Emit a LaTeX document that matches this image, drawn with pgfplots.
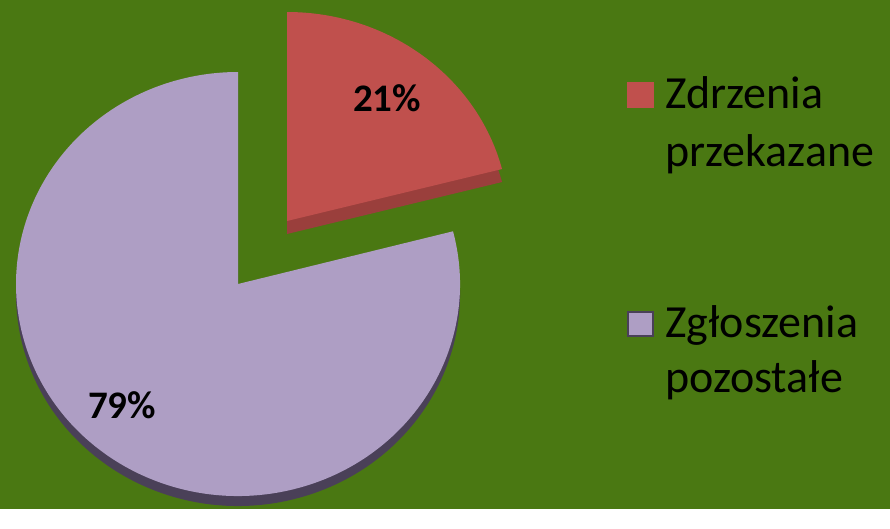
\documentclass[border=0pt]{standalone}
\usepackage{pgfplots}
\usepackage{pgfplotstable}
\pgfplotsset{compat=1.18}
\usepackage{fontspec}
\setmainfont{Carlito}
\definecolor{bg}{HTML}{4A7812}
\definecolor{redc}{HTML}{C0504D}
\definecolor{reddark}{HTML}{9A3F3C}
\definecolor{lavc}{HTML}{AE9EC4}
\definecolor{lavdark}{HTML}{4A4058}
\pgfplotstableread{
label value
przekazane 21
pozostale 79
}\piedata
\begin{document}
\begin{tikzpicture}
\pgfplotstablegetelem{0}{value}\of\piedata
\pgfmathsetmacro{\aend}{90-360*\pgfplotsretval/100}
\pgfmathsetmacro{\ex}{222*cos(\aend)}
\pgfmathsetmacro{\ey}{212*sin(\aend)}
\begin{axis}[hide axis, scale only axis, width=890pt, height=509pt,
  xmin=0, xmax=890, ymin=0, ymax=509, y dir=reverse, clip=false]
\fill[bg] (axis cs:0,0) rectangle (axis cs:890,509);
% lavender slice (79%)
\fill[lavdark] (axis cs:238,294) -- ++(\ex pt,\ey pt)
  arc[start angle=\aend, end angle=-270, x radius=222pt, y radius=212pt] -- cycle;
\fill[lavc] (axis cs:238,284) -- ++(\ex pt,\ey pt)
  arc[start angle=\aend, end angle=-270, x radius=222pt, y radius=212pt] -- cycle;
% red slice (21%), exploded
\fill[reddark] (axis cs:287,234) -- ++(0pt,209pt)
  arc[start angle=90, end angle=\aend, x radius=222pt, y radius=209pt] -- cycle;
\fill[redc] (axis cs:287,221) -- ++(0pt,209pt)
  arc[start angle=90, end angle=\aend, x radius=222pt, y radius=209pt] -- cycle;
% labels
\node[font=\bfseries\fontsize{39}{47}\selectfont, text=black] at (axis cs:387,98) {21\%};
\node[font=\bfseries\fontsize{39}{47}\selectfont, text=black] at (axis cs:122,405) {79\%};
% legend
\fill[redc] (axis cs:627,82) rectangle (axis cs:654,108);
\fill[lavc, draw=lavdark, line width=1.5pt] (axis cs:628,312) rectangle (axis cs:653,336);
\node[anchor=base west, inner sep=0pt, font=\fontsize{46}{55}\selectfont, text=black] at (axis cs:665,108) {Zdrzenia};
\node[anchor=base west, inner sep=0pt, font=\fontsize{46}{55}\selectfont, text=black] at (axis cs:665,166) {przekazane};
\node[anchor=base west, inner sep=0pt, font=\fontsize{46}{55}\selectfont, text=black] at (axis cs:665,337) {Zgłoszenia};
\node[anchor=base west, inner sep=0pt, font=\fontsize{46}{55}\selectfont, text=black] at (axis cs:665,392) {pozostałe};
\end{axis}
\end{tikzpicture}
\end{document}
